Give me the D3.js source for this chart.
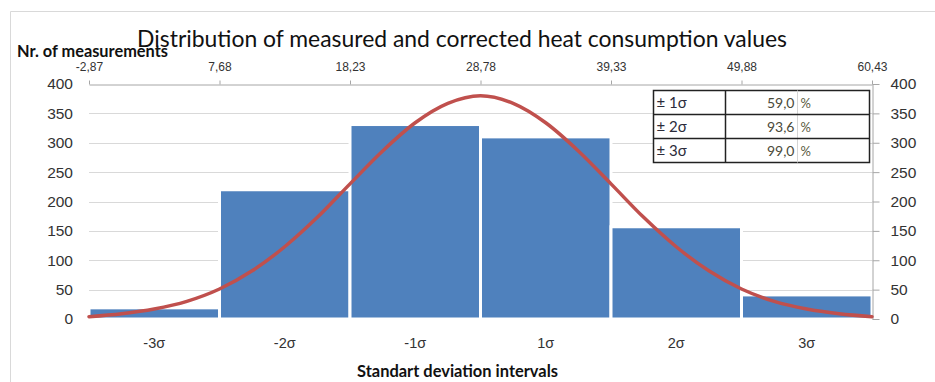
<!DOCTYPE html>
<html>
<head>
<meta charset="utf-8">
<script src="https://cdn.jsdelivr.net/npm/d3@7"></script>
<style>
  html, body { margin: 0; padding: 0; background: #fff; }
  svg { display: block; font-family: Lato, "Open Sans", sans-serif; }
</style>
</head>
<body>
<svg id="chart" width="935" height="382"></svg>
<script>
// ---- data ----
const categories = ["-3σ", "-2σ", "-1σ", "1σ", "2σ", "3σ"];
const counts = [19, 220, 331, 310, 157, 41];
const topTickValues = [-2.87, 7.68, 18.23, 28.78, 39.33, 49.88, 60.43];
const topTickLabels = ["-2,87", "7,68", "18,23", "28,78", "39,33", "49,88", "60,43"];
const yTicks = [0, 50, 100, 150, 200, 250, 300, 350, 400];
const curveX = [-2.87, -0.23, 2.40, 5.04, 7.68, 10.32, 12.95, 15.59, 18.23, 20.87, 23.50, 26.14, 28.78,
                31.42, 34.05, 36.69, 39.33, 41.97, 44.60, 47.24, 49.88, 52.52, 55.15, 57.79, 60.43];
const curveY = [4, 9, 17, 30, 51, 82, 123, 173, 230, 286, 334, 367, 380,
                367, 334, 286, 230, 173, 123, 82, 51, 30, 17, 9, 4];
const tableLabels = ["± 1σ", "± 2σ", "± 3σ"];
const tableValues = ["59,0", "93,6", "99,0"];
const tableUnit = "%";
const titleText = "Distribution of measured and corrected heat consumption values";
const yTitle = "Nr. of measurements";
const xTitle = "Standart deviation intervals";

// ---- layout ----
const svg = d3.select("#chart");
const L = 89, R = 872, T = 84, B = 319;
const textCol = "#333";

const x = d3.scaleBand().domain(categories).range([L, R]).padding(0);
const xTop = d3.scaleLinear().domain([-2.87, 60.43]).range([L, R]);
const y = d3.scaleLinear().domain([0, 400]).range([B, T]);

function fit(sel, target) {
  const n = sel.node();
  const fs = parseFloat(sel.attr("font-size"));
  const len = n.getComputedTextLength();
  sel.attr("font-size", (fs * target / len).toFixed(2));
}

// chart frame
svg.append("path").attr("d", "M10.5,382 V11.5 H935")
  .attr("fill", "none").attr("stroke", "#d9d9d9").attr("stroke-width", 1);

// gridlines
svg.append("g").selectAll("line").data(yTicks.filter(d => d > 0 && d < 400)).join("line")
  .attr("x1", L).attr("x2", R).attr("y1", d => Math.round(y(d)) + 0.5).attr("y2", d => Math.round(y(d)) + 0.5)
  .attr("stroke", "#d9d9d9").attr("stroke-width", 1);
svg.append("line").attr("x1", L).attr("x2", R).attr("y1", B + 0.5).attr("y2", B + 0.5)
  .attr("stroke", "#d9d9d9");

// bars
svg.append("g").selectAll("rect").data(categories).join("rect")
  .attr("x", d => x(d)).attr("width", x.bandwidth())
  .attr("y", (d, i) => y(counts[i])).attr("height", (d, i) => B - y(counts[i]))
  .attr("fill", "#4f81bd").attr("stroke", "#fff").attr("stroke-width", 3);

// top axis
const gTop = svg.append("g").attr("transform", `translate(0,${T + 0.5})`)
  .call(d3.axisTop(xTop).tickValues(topTickValues).tickFormat((d, i) => topTickLabels[i])
    .tickSize(4).tickSizeOuter(0).tickPadding(10));
gTop.selectAll("path, line").attr("stroke", "#a6a6a6");
gTop.selectAll("text").attr("font-size", 12).attr("fill", textCol).attr("font-family", null);

// right axis
const gRight = svg.append("g").attr("transform", `translate(${R + 0.5},0)`)
  .call(d3.axisRight(y).tickValues(yTicks).tickSize(7).tickSizeOuter(0).tickPadding(11));
gRight.selectAll("path, line").attr("stroke", "#a6a6a6");
gRight.selectAll("text").attr("font-size", 15.5).attr("fill", textCol).attr("font-family", null);

// left axis (labels only)
const gLeft = svg.append("g").attr("transform", `translate(${L},0)`)
  .call(d3.axisLeft(y).tickValues(yTicks).tickSize(0).tickPadding(16));
gLeft.select(".domain").remove();
gLeft.selectAll("text").attr("font-size", 15.5).attr("fill", textCol).attr("font-family", null);

// bottom category labels
const gBot = svg.append("g").attr("transform", `translate(0,${B})`)
  .call(d3.axisBottom(x).tickSize(0).tickPadding(19));
gBot.select(".domain").remove();
gBot.selectAll("text").attr("font-size", 14.5).attr("fill", textCol).attr("font-family", null);

// normal curve
const pts = curveX.map((v, i) => [xTop(v), y(curveY[i])]);
svg.append("path").datum(pts)
  .attr("d", d3.line().curve(d3.curveMonotoneX))
  .attr("fill", "none").attr("stroke", "#c0504d").attr("stroke-width", 3.5)
  .attr("stroke-linecap", "round");

// table
const tx0 = 653.5, tx1 = 725.5, tx2 = 797.5, tx3 = 869.5, ty0 = 90.5, rowH = 24;
const gT = svg.append("g");
gT.append("rect").attr("x", tx0).attr("y", ty0).attr("width", tx3 - tx0).attr("height", rowH * 3)
  .attr("fill", "#fff").attr("stroke", "#222").attr("stroke-width", 1.5);
gT.append("line").attr("x1", tx2).attr("x2", tx2).attr("y1", ty0).attr("y2", ty0 + rowH * 3)
  .attr("stroke", "#d4d4d4");
gT.append("line").attr("x1", tx1).attr("x2", tx1).attr("y1", ty0).attr("y2", ty0 + rowH * 3)
  .attr("stroke", "#222").attr("stroke-width", 1.5);
[1, 2].forEach(r => gT.append("line").attr("x1", tx0).attr("x2", tx3)
  .attr("y1", ty0 + r * rowH).attr("y2", ty0 + r * rowH).attr("stroke", "#222").attr("stroke-width", 1.5));
tableLabels.forEach((lab, i) => {
  const cy = ty0 + i * rowH + rowH / 2 + 5;
  gT.append("text").attr("x", tx0 + 3).attr("y", cy).attr("font-size", 15).attr("fill", "#2b2b3a").text(lab);
  gT.append("text").attr("x", tx2 - 3).attr("y", cy).attr("text-anchor", "end")
    .attr("font-size", 14).attr("fill", "#4a4a3a").text(tableValues[i]);
  gT.append("text").attr("x", tx2 + 3).attr("y", cy).attr("font-size", 13).attr("fill", "#5a5a40").text(tableUnit);
});

// titles
const t = svg.append("text").attr("x", 462).attr("y", 47).attr("text-anchor", "middle")
  .attr("font-size", 24).attr("fill", "#111").text(titleText);
fit(t, 650);
const yt = svg.append("text").attr("x", 17).attr("y", 57).attr("font-weight", "bold")
  .attr("font-size", 13).attr("fill", "#111").text(yTitle);
fit(yt, 151);
const xt = svg.append("text").attr("x", 457.5).attr("y", 377).attr("text-anchor", "middle")
  .attr("font-weight", "bold").attr("font-size", 13).attr("fill", "#111").text(xTitle);
fit(xt, 201);
</script>
</body>
</html>
